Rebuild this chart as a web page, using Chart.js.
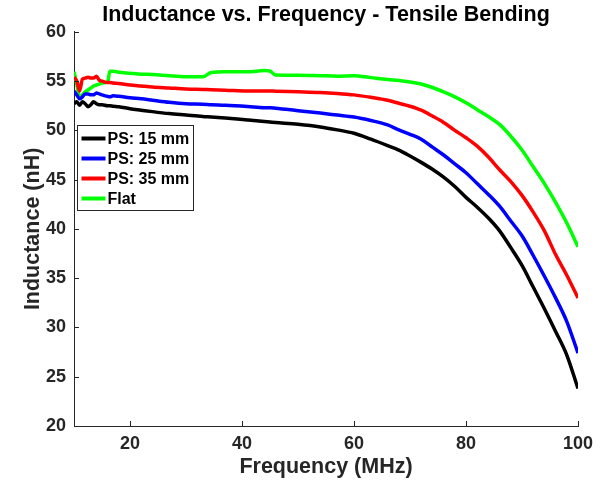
<!DOCTYPE html>
<html>
<head>
<meta charset="utf-8">
<script src="https://cdn.jsdelivr.net/npm/chart.js@4.4.1/dist/chart.umd.min.js"></script>
<style>
  body { margin: 0; background: #fff; }
  #wrap { width: 609px; height: 485px; }
</style>
</head>
<body>
<div id="wrap"><canvas id="inductanceChart" width="609" height="485"></canvas></div>
<script>
// Inductance vs frequency, tensile bending
const freqMHz = [10, 10.5, 11, 11.5, 12, 12.5, 13, 13.5, 14, 14.5, 15, 16, 16.4, 17, 18, 20, 22, 24, 27, 30,
                 33, 34.5, 37, 41, 44, 45, 46, 50, 54, 57, 60, 63, 66, 68, 70, 72, 74, 76, 78, 80,
                 82, 84, 86, 88, 90, 92, 94, 96, 98, 100];

const ps15 = [52.7, 52.9, 52.55, 52.9, 52.7, 52.4, 52.6, 52.9, 52.7, 52.6, 52.6, 52.5, 52.5, 52.45, 52.4, 52.2, 52.05, 51.9, 51.7, 51.55,
              51.4, 51.35, 51.25, 51.05, 50.9, 50.85, 50.8, 50.62, 50.35, 50.05, 49.7, 49.1, 48.45, 48.0, 47.4, 46.75, 46.05, 45.25, 44.3, 43.2,
              42.2, 41.1, 39.8, 38.1, 36.3, 34.1, 31.9, 29.6, 27.2, 23.8];

const ps25 = [54.0, 53.6, 53.2, 53.4, 53.7, 53.7, 53.6, 53.6, 53.8, 53.7, 53.6, 53.45, 53.4, 53.5, 53.45, 53.3, 53.2, 53.06, 52.85, 52.7,
              52.65, 52.6, 52.55, 52.42, 52.3, 52.3, 52.25, 52.0, 51.75, 51.55, 51.35, 51.0, 50.55, 50.05, 49.6, 49.1, 48.3, 47.5, 46.6, 45.7,
              44.6, 43.5, 42.3, 40.8, 39.3, 37.3, 35.2, 33.0, 30.6, 27.4];

const ps35 = [55.4, 55.0, 54.0, 55.2, 55.3, 55.4, 55.3, 55.3, 55.5, 55.1, 55.0, 54.85, 54.85, 54.8, 54.75, 54.6, 54.5, 54.4, 54.3, 54.2,
              54.15, 54.12, 54.08, 54.0, 54.0, 54.0, 53.98, 53.92, 53.85, 53.75, 53.6, 53.35, 53.05, 52.75, 52.45, 52.05, 51.45, 50.8, 50.0, 49.25,
              48.4, 47.3, 46.0, 44.8, 43.4, 41.7, 39.8, 37.4, 35.3, 33.0];

const flat = [55.95, 54.7, 53.3, 53.6, 53.9, 54.1, 54.3, 54.5, 54.6, 54.7, 54.8, 54.9, 56.0, 56.0, 55.9, 55.8, 55.7, 55.67, 55.55, 55.45,
              55.43, 55.87, 55.94, 55.94, 56.07, 56.0, 55.62, 55.6, 55.55, 55.5, 55.55, 55.35, 55.15, 55.05, 54.9, 54.7, 54.35, 53.9, 53.4, 52.8,
              52.1, 51.4, 50.6, 49.4, 48.0, 46.3, 44.6, 42.7, 40.6, 38.2];

const seriesLabels = ['PS: 15 mm', 'PS: 25 mm', 'PS: 35 mm', 'Flat'];
const seriesColors = ['#000000', '#0000ff', '#ff0000', '#00ff00'];
const xTickValues = [20, 40, 60, 80, 100];

const FONT = "'Liberation Sans', Arial, Helvetica, sans-serif";
const AXIS_COLOR = '#262626';

function toPoints(values) {
    return freqMHz.map((f, i) => ({ x: f, y: values[i] }));
}

// MATLAB style ticks pointing into the plot
const inwardTicks = {
    id: 'inwardTicks',
    afterDatasetsDraw(chart) {
        const ctx = chart.ctx;
        const area = chart.chartArea;
        const xs = chart.scales.x;
        const ys = chart.scales.y;
        ctx.save();
        ctx.strokeStyle = AXIS_COLOR;
        ctx.lineWidth = 1;
        ctx.beginPath();
        xs.ticks.forEach(t => {
            const px = Math.round(xs.getPixelForValue(t.value)) + 0.5;
            ctx.moveTo(px, area.bottom);
            ctx.lineTo(px, area.bottom - 5);
        });
        ys.ticks.forEach(t => {
            const py = Math.round(ys.getPixelForValue(t.value)) + 0.5;
            ctx.moveTo(area.left, py);
            ctx.lineTo(area.left + 5, py);
        });
        ctx.stroke();
        ctx.restore();
    }
};

// legend box in the upper left of the plot
const boxLegend = {
    id: 'boxLegend',
    afterDraw(chart) {
        const ctx = chart.ctx;
        const area = chart.chartArea;
        const left = area.left + 3.5;
        const top = 125.5;
        const width = 116;
        const height = 85;
        ctx.save();
        ctx.fillStyle = '#ffffff';
        ctx.fillRect(left, top, width, height);
        ctx.strokeStyle = AXIS_COLOR;
        ctx.lineWidth = 1;
        ctx.strokeRect(left, top, width, height);
        ctx.font = 'bold 16px ' + FONT;
        ctx.textBaseline = 'middle';
        ctx.textAlign = 'left';
        chart.data.datasets.forEach((ds, i) => {
            const cy = top + 13 + i * 20;
            ctx.strokeStyle = ds.borderColor;
            ctx.lineWidth = 4;
            ctx.beginPath();
            ctx.moveTo(left + 4, cy);
            ctx.lineTo(left + 28, cy);
            ctx.stroke();
            ctx.fillStyle = '#000000';
            ctx.fillText(ds.label, left + 30, cy + 1);
        });
        ctx.restore();
    }
};

const ctx = document.getElementById('inductanceChart').getContext('2d');

new Chart(ctx, {
    type: 'line',
    data: {
        datasets: [ps15, ps25, ps35, flat].map((vals, i) => ({
            label: seriesLabels[i],
            data: toPoints(vals),
            borderColor: seriesColors[i],
            backgroundColor: seriesColors[i],
            borderWidth: 3.5,
            borderJoinStyle: 'round',
            pointRadius: 0,
            cubicInterpolationMode: 'monotone',
            fill: false
        }))
    },
    options: {
        responsive: false,
        animation: false,
        layout: {
            padding: { left: 0, right: 31, top: 0, bottom: 0 }
        },
        plugins: {
            legend: { display: false },
            tooltip: { enabled: false },
            title: {
                display: true,
                fullSize: false,
                text: 'Inductance vs. Frequency - Tensile Bending',
                color: '#000000',
                font: { family: FONT, size: 21.5, weight: 'bold' },
                padding: { top: 2, bottom: 4 }
            }
        },
        scales: {
            x: {
                type: 'linear',
                min: 10,
                max: 100,
                afterBuildTicks(scale) {
                    scale.ticks = xTickValues.map(v => ({ value: v }));
                },
                afterFit(scale) {
                    scale.height = 59;
                },
                grid: { display: false, drawTicks: false },
                border: { display: true, color: AXIS_COLOR, width: 1 },
                ticks: {
                    color: AXIS_COLOR,
                    padding: 7,
                    maxRotation: 0,
                    font: { family: FONT, size: 18, weight: 'bold' }
                },
                title: {
                    display: true,
                    text: 'Frequency (MHz)',
                    color: AXIS_COLOR,
                    font: { family: FONT, size: 21.5, weight: 'bold' },
                    padding: { top: 0, bottom: 5 }
                }
            },
            y: {
                min: 20,
                max: 60,
                afterFit(scale) {
                    scale.width = 74;
                },
                grid: { display: false, drawTicks: false },
                border: { display: true, color: AXIS_COLOR, width: 1 },
                ticks: {
                    stepSize: 5,
                    color: AXIS_COLOR,
                    padding: 8,
                    font: { family: FONT, size: 18, weight: 'bold' }
                },
                title: {
                    display: true,
                    text: 'Inductance (nH)',
                    color: AXIS_COLOR,
                    font: { family: FONT, size: 21.5, weight: 'bold' },
                    padding: { top: 20, bottom: 0 }
                }
            }
        }
    },
    plugins: [inwardTicks, boxLegend]
});
</script>
</body>
</html>
